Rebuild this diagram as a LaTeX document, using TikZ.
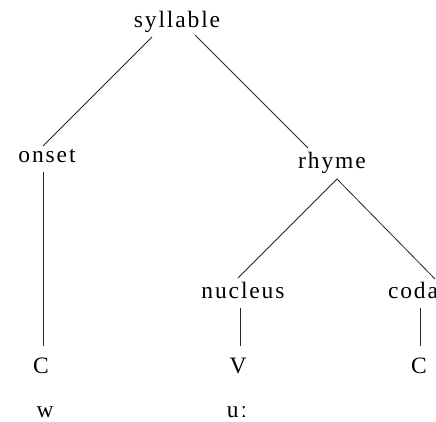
\documentclass[tikz,border=0pt]{standalone}
\usepackage{fontspec}
\setmainfont{Liberation Serif}
\newfontfamily\treefont[LetterSpace=8]{Liberation Serif}
\usetikzlibrary{calc}
\begin{document}
\begin{tikzpicture}[x=1pt,y=-1pt,
  lbl/.style={anchor=base,inner sep=0pt,font=\treefont\fontsize{23.5}{26}\selectfont},
  edge/.style={line width=0.8pt,draw=black!85}]
\useasboundingbox (0,0) rectangle (436,422);
\node[lbl] (syl) at (177,28) {syllable};
\node[lbl] (onset) at (47,163) {onset};
\node[lbl] (rhyme) at (332,168) {rhyme};
\node[lbl] (nucleus) at (243,298) {nucleus};
\node[lbl] (coda) at (413,298) {coda};
\node[lbl] (c1) at (41,373) {C};
\node[lbl] (v) at (238,373) {V};
\node[lbl] (c2) at (419,373) {C};
\node[lbl] (w) at (45,417) {w};
\node[lbl] (u) at (237,417) {uː};
\draw[edge] ($(syl.base)+(-25,9)$) -- ($(onset.base)+(-4,-17)$);
\draw[edge] ($(syl.base)+(18,7)$) -- ($(rhyme.base)+(-24,-20)$);
\draw[edge] ($(onset.base)+(-4,9)$) -- ($(c1.base)+(2,-27)$);
\draw[edge] ($(rhyme.base)+(5,11)$) -- ($(nucleus.base)+(-5,-20)$);
\draw[edge] ($(rhyme.base)+(5,11)$) -- ($(coda.base)+(22,-19)$);
\draw[edge] ($(nucleus.base)+(-3,10)$) -- ($(v.base)+(2,-27)$);
\draw[edge] ($(coda.base)+(7,10)$) -- ($(c2.base)+(1,-27)$);
\end{tikzpicture}
\end{document}
